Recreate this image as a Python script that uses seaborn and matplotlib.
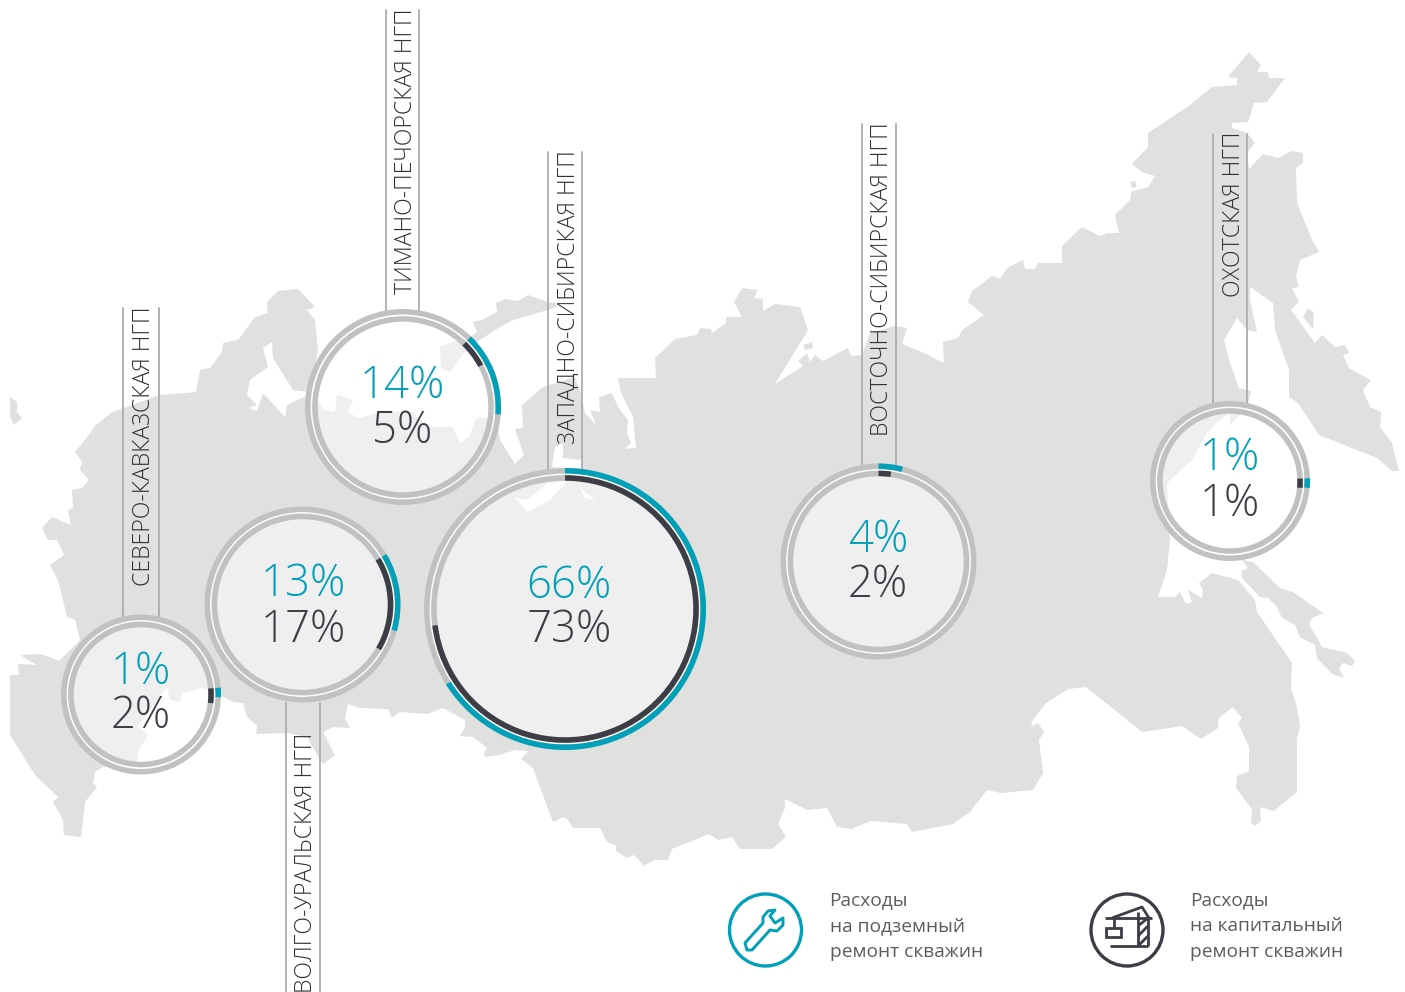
import matplotlib
matplotlib.use("Agg")
import matplotlib.pyplot as plt
from matplotlib.patches import Wedge, Circle, Polygon
import seaborn as sns

# chart values
regions = ["СЕВЕРО-КАВКАЗСКАЯ НГП", "ВОЛГО-УРАЛЬСКАЯ НГП", "ТИМАНО-ПЕЧОРСКАЯ НГП",
           "ЗАПАДНО-СИБИРСКАЯ НГП", "ВОСТОЧНО-СИБИРСКАЯ НГП", "ОХОТСКАЯ НГП"]
underground = [1, 13, 14, 66, 4, 1]
capital = [2, 17, 5, 73, 2, 1]
legend_labels = ["Расходы\nна подземный\nремонт скважин", "Расходы\nна капитальный\nремонт скважин"]

# ring layout, picture pixels
centers_x = [141, 302.5, 403, 565, 878.5, 1230]
centers_y = [694.5, 604.5, 407, 609, 561.5, 481]
radii = [80, 98, 98, 141, 98, 80]
start_angles = [85, 59, 44, 0, 0, 88]
teal_baseline = [684, 596, 398, 598, 552, 470]
dark_baseline = [728, 642, 443, 642, 597, 516]
text_x = [141, 303, 402, 569, 878, 1230]
# the tiny arcs are drawn wider than their share, degrees
min_teal = [7, 0, 0, 0, 0, 7]
min_dark = [12, 0, 0, 0, 8, 7.5]

# label columns: left rail, right rail, rail top, rail bottom, text top
rail_left = [123, 286, 386, 548, 862, 1213]
rail_right = [159, 320, 419, 582, 896, 1247]
rail_top = [308, 703, 10, 152, 124, 134]
rail_bottom = [620, 992, 312, 472, 466, 405]
label_top = [306, 733, 8, 150, 122, 132]

# map outline
russia = [
    (75, 452), (82, 462), (80, 470), (89, 480), (82, 488), (72, 490), (73, 508), (68, 510), (71, 525),
    (52, 517), (42, 528), (48, 540), (57, 540), (64, 555), (50, 565), (58, 580), (63, 600), (67, 617),
    (75, 620), (80, 640), (59, 661), (50, 657), (40, 654), (20, 655), (37, 665), (18, 664), (19, 675),
    (10, 675), (10, 735), (35, 775), (58, 797), (53, 802), (63, 820), (64, 835), (81, 837), (85, 802),
    (97, 787), (93, 783), (95, 772), (103, 767), (137, 762), (138, 752), (148, 735), (138, 727),
    (167, 687), (170, 700), (180, 702), (182, 693), (203, 688), (220, 695), (233, 702), (243, 703),
    (247, 717), (257, 726), (256, 734), (287, 733), (307, 737), (322, 763), (325, 763), (335, 755),
    (323, 732), (333, 727), (350, 728), (345, 718), (348, 704), (360, 708), (388, 709), (392, 718),
    (400, 712), (427, 714), (443, 708), (465, 720), (465, 727), (460, 736), (473, 737), (487, 748),
    (484, 753), (485, 757), (500, 755), (515, 750), (528, 751), (521, 759), (533, 768), (553, 822),
    (563, 817), (568, 820), (573, 828), (600, 828), (607, 842), (616, 846), (616, 851), (627, 858),
    (634, 855), (644, 866), (654, 860), (668, 860), (672, 849), (709, 834), (718, 840), (732, 837),
    (740, 849), (772, 849), (786, 837), (778, 824), (785, 808), (785, 799), (807, 810), (827, 808),
    (837, 827), (851, 829), (871, 821), (907, 824), (912, 832), (953, 824), (970, 812), (987, 790),
    (1001, 793), (1033, 790), (1043, 773), (1039, 740), (1044, 732), (1038, 723), (1033, 726),
    (1031, 723), (1046, 703), (1068, 689), (1086, 687), (1142, 732), (1182, 726), (1201, 739),
    (1218, 728), (1219, 718), (1233, 707), (1242, 718), (1238, 723), (1249, 747), (1249, 771),
    (1237, 776), (1236, 788), (1252, 809), (1251, 823), (1255, 826), (1261, 821), (1260, 807),
    (1274, 811), (1297, 792), (1297, 738), (1300, 726), (1297, 707), (1291, 688), (1292, 663),
    (1257, 612), (1255, 600), (1238, 580), (1212, 573), (1199, 583), (1203, 590), (1202, 598),
    (1188, 590), (1192, 602), (1186, 604), (1180, 592), (1175, 597), (1158, 597), (1167, 570),
    (1170, 540), (1167, 483), (1192, 460), (1207, 433), (1220, 420), (1230, 413), (1230, 425),
    (1247, 408), (1251, 391), (1239, 388), (1230, 363), (1224, 340), (1237, 318), (1247, 330),
    (1257, 332), (1250, 300), (1250, 287), (1273, 303), (1275, 330), (1289, 370), (1289, 397),
    (1298, 403), (1319, 435), (1377, 458), (1392, 471), (1399, 471), (1392, 443), (1380, 427),
    (1381, 412), (1370, 407), (1363, 390), (1371, 380), (1349, 368), (1343, 355), (1349, 353),
    (1345, 345), (1335, 347), (1322, 335), (1315, 343), (1291, 310), (1299, 302), (1292, 288),
    (1299, 287), (1296, 277), (1300, 260), (1319, 252), (1312, 240), (1297, 203), (1296, 168),
    (1303, 163), (1303, 153), (1292, 151), (1278, 158), (1263, 154), (1249, 169), (1247, 153),
    (1255, 143), (1247, 133), (1232, 128), (1232, 123), (1248, 122), (1254, 103), (1267, 102),
    (1285, 78), (1269, 78), (1268, 72), (1257, 72), (1261, 65), (1249, 52), (1228, 77), (1237, 78),
    (1237, 85), (1212, 87), (1190, 105), (1148, 133), (1148, 147), (1132, 164), (1142, 172),
    (1155, 176), (1148, 187), (1131, 192), (1130, 200), (1115, 215), (1119, 233), (1108, 233),
    (1100, 236), (1082, 227), (1062, 246), (1062, 263), (1038, 263), (1035, 269), (1025, 269),
    (1023, 260), (1007, 268), (1000, 279), (992, 276), (972, 291), (968, 302), (984, 315), (962, 330),
    (958, 338), (943, 342), (944, 363), (922, 352), (902, 344), (907, 328), (895, 326), (870, 333),
    (862, 355), (851, 356), (848, 348), (823, 361), (815, 355), (810, 362), (807, 353), (798, 361),
    (803, 366), (775, 384), (808, 330), (800, 307), (775, 304), (763, 311), (763, 299), (754, 298),
    (758, 290), (742, 288), (734, 302), (742, 317), (726, 317), (726, 323), (712, 333), (711, 329),
    (700, 328), (697, 335), (675, 339), (655, 358), (656, 378), (618, 378), (621, 393), (633, 417),
    (636, 448), (625, 449), (631, 443), (627, 433), (628, 420), (618, 407), (612, 393), (599, 397),
    (600, 412), (590, 410), (596, 425), (585, 413), (580, 390), (575, 377), (543, 387), (522, 405),
    (523, 428), (515, 429), (524, 455), (515, 464), (500, 440), (497, 420), (477, 417), (469, 437),
    (460, 443), (453, 427), (428, 427), (413, 412), (383, 412), (358, 418), (348, 412), (353, 400),
    (337, 395), (335, 412), (323, 410), (317, 398), (308, 395), (287, 405), (285, 417), (263, 393),
    (257, 411), (248, 408), (257, 405), (247, 395), (250, 380), (268, 367), (263, 348), (272, 342),
    (273, 358), (293, 390), (310, 392), (318, 350), (315, 320), (307, 310), (315, 307), (298, 289),
    (278, 291), (267, 302), (268, 313), (255, 317), (238, 340), (223, 343), (222, 352), (210, 368),
    (200, 370), (196, 392), (160, 395), (112, 412), (95, 426), (85, 440),
]
islands = [
    [(10, 397), (17, 402), (17, 412), (22, 418), (14, 425), (10, 417)],
    [(473, 322), (482, 320), (497, 312), (496, 303), (505, 299), (518, 301), (528, 295), (548, 302),
     (556, 303), (556, 307), (548, 310), (513, 320), (500, 327), (480, 340), (465, 352), (450, 372),
     (441, 368), (440, 347), (458, 340), (470, 337), (477, 332)],
    [(1242, 560), (1253, 562), (1280, 588), (1293, 592), (1323, 613), (1312, 618), (1309, 624),
     (1322, 647), (1347, 653), (1355, 661), (1352, 666), (1343, 663), (1339, 668), (1344, 678),
     (1332, 674), (1317, 658), (1315, 645), (1300, 637), (1295, 625), (1282, 618), (1277, 607),
     (1268, 598), (1260, 597), (1242, 578), (1241, 571), (1248, 568)],
    [(1303, 317), (1308, 308), (1314, 313), (1313, 329)],
    [(803, 345), (812, 342), (813, 348), (805, 350)],
    [(1130, 182), (1136, 181), (1136, 187), (1132, 188)],
]
gulfs = [
    [(552, 467), (555, 447), (563, 443), (563, 458), (582, 460), (582, 469)],
    [(553, 468), (565, 482), (547, 483), (527, 500), (514, 497), (528, 512), (550, 500), (565, 484), (575, 468)],
    [(578, 483), (585, 498), (595, 500), (583, 490)],
]

# legend icons
wrench = [(745, 943), (763, 923), (763, 917), (768, 911), (775, 910), (770, 916), (775, 923), (783, 918),
          (783, 925), (777, 931), (770, 930), (752, 950), (747, 950)]
crane_lines = [[(1105, 918), (1152, 918)], [(1112, 918), (1142, 907), (1149, 918)], [(1110, 946), (1148, 946)],
               [(1138, 912), (1138, 946)], [(1148, 916), (1148, 946)], [(1138, 926), (1148, 918)],
               [(1138, 936), (1148, 926)], [(1138, 946), (1148, 936)], [(1114, 918), (1114, 928)]]
crane_box = [(1106, 928), (1121, 928), (1121, 937), (1106, 937)]

TEAL = "#00A0B8"
DARK = "#3C3D45"
RING = "#C0C2C1"
LAND = "#E0E0DF"
FONT = "Open Sans"

sns.set_theme(style="white")
plt.rcParams['font.family'] = [FONT, 'DejaVu Sans']

fig = plt.figure(figsize=(14.05, 9.92), dpi=100)
ax = fig.add_axes([0, 0, 1, 1])
ax.set_xlim(0, 1405)
ax.set_ylim(992, 0)
ax.axis("off")
sns.despine(ax=ax, left=True, bottom=True)

ax.add_patch(Polygon(russia, closed=True, fc=LAND, ec="none", zorder=1))
for isl in islands:
    ax.add_patch(Polygon(isl, closed=True, fc=LAND, ec="none", zorder=1))
for g in gulfs:
    ax.add_patch(Polygon(g, closed=True, fc="white", ec="none", zorder=1.5))

# rails and rotated labels
for i, name in enumerate(regions):
    for x in (rail_left[i], rail_right[i]):
        ax.plot([x, x], [rail_top[i], rail_bottom[i]], color="#ABADB0", lw=1.3, zorder=2)
    ax.text((rail_left[i] + rail_right[i]) / 2 + 3.5, label_top[i], name, rotation=90, ha="center", va="top",
            fontsize=16.55, weight="light", color="#303036", zorder=6)

# rings
for i in range(len(regions)):
    c = (centers_x[i], centers_y[i])
    r = radii[i]
    w = 5.5
    r2 = r - w - 1.7
    ax.add_patch(Circle(c, r2 - w, fc="white", alpha=0.5, ec="none", zorder=3))
    ax.add_patch(Wedge(c, r - w, 0, 360, width=1.7, fc="white", alpha=0.9, ec="none", zorder=3))
    ax.add_patch(Wedge(c, r, 0, 360, width=w, fc=RING, ec="none", zorder=4))
    ax.add_patch(Wedge(c, r2, 0, 360, width=w, fc=RING, ec="none", zorder=4))
    # arcs run clockwise, the axis is flipped so the angle just goes up
    a0 = start_angles[i] - 90
    ax.add_patch(Wedge(c, r, a0, a0 + max(underground[i] * 3.6, min_teal[i]), width=w, fc=TEAL, ec="none", zorder=5))
    ax.add_patch(Wedge(c, r2, a0, a0 + max(capital[i] * 3.6, min_dark[i]), width=w, fc=DARK, ec="none", zorder=5))
    ax.text(text_x[i], teal_baseline[i], f"{underground[i]}%", ha="center", va="baseline", fontsize=31.5,
            weight="light", color=TEAL, zorder=6)
    ax.text(text_x[i], dark_baseline[i], f"{capital[i]}%", ha="center", va="baseline", fontsize=31.5,
            weight="light", color=DARK, zorder=6)

# legend
ax.add_patch(Circle((765.5, 930), 36, fc="none", ec=TEAL, lw=2.4, zorder=4))
ax.add_patch(Polygon(wrench, closed=True, fc="none", ec=TEAL, lw=2.1, joinstyle="round", zorder=4))
ax.add_patch(Circle((1127, 930), 36, fc="none", ec=DARK, lw=2.4, zorder=4))
for seg in crane_lines:
    ax.plot([p[0] for p in seg], [p[1] for p in seg], color=DARK, lw=2, solid_capstyle="butt", zorder=4)
ax.add_patch(Polygon(crane_box, closed=True, fc="none", ec=DARK, lw=2, zorder=4))

for x, txt in zip([829.5, 1190.5], legend_labels):
    for line, y in zip(txt.split("\n"), [905, 931, 957]):
        ax.text(x, y, line, ha="left", va="baseline", fontsize=13.8, color="#5B5C60", zorder=6)

fig.savefig("out.png", dpi=100, facecolor="white")
